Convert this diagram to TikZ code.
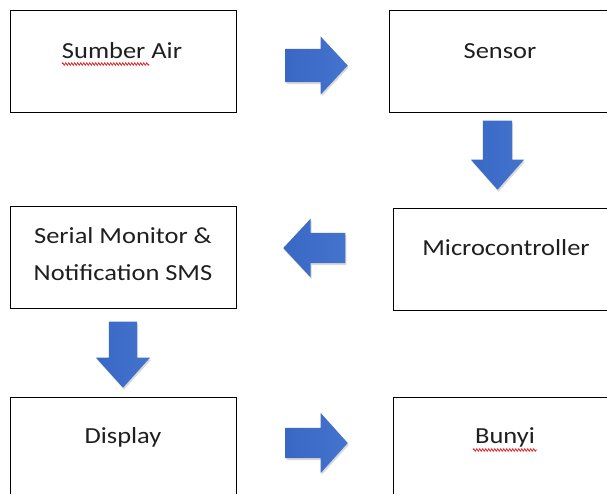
\documentclass[tikz,border=0pt]{standalone}
\usepackage{fontspec}
\setmainfont{Carlito}
\usetikzlibrary{shapes.arrows,shadows,decorations.pathmorphing}
\definecolor{arrlight}{HTML}{4574CE}
\definecolor{arrdark}{HTML}{3867C5}
\definecolor{spellred}{HTML}{E8262B}
\tikzset{
  box/.style={draw=black, line width=1.3pt, fill=white, rectangle, inner sep=0pt, anchor=north west},
  lbl/.style={anchor=base, inner sep=0pt, font=\fontsize{23}{28}\selectfont, xscale=1.15, text=black!88},
  blockarrow/.style={shape=single arrow, inner xsep=0pt, draw=none, anchor=tip,
     left color=arrdark, right color=arrlight,
     drop shadow={shadow xshift=1pt, shadow yshift=-2pt, opacity=0.15, fill=black}},
  squiggle/.style={draw=spellred, line width=0.8pt, decorate,
     decoration={zigzag, amplitude=1.2pt, segment length=3pt}}
}
\begin{document}
\begin{tikzpicture}[x=1pt, y=-1pt]
\useasboundingbox (0,0) rectangle (607,493);
\clip (0,0) rectangle (607,493);
\fill[white] (0,0) rectangle (607,493);
% boxes
\node[box, minimum width=226pt, minimum height=102pt] (sumber) at (10,10) {};
\node[box, minimum width=223pt, minimum height=102pt] (sensor) at (389,10) {};
\node[box, minimum width=219pt, minimum height=102pt] (micro) at (393,208) {};
\node[box, minimum width=226pt, minimum height=102pt] (serial) at (10,206) {};
\node[box, minimum width=226pt, minimum height=110pt] (display) at (10,397) {};
\node[box, minimum width=219pt, minimum height=110pt] (bunyi) at (393,397) {};
% labels
\node[lbl] (tsumber) at (122,58) {Sumber Air};
\node[lbl] (tsensor) at (500,58) {Sensor};
\node[lbl] (tmicro) at (506,255) {Microcontroller};
\node[lbl] (tserial1) at (123,243) {Serial Monitor \&};
\node[lbl] (tserial2) at (123,280) {Notification SMS};
\node[lbl] (tdisplay) at (123,443) {Display};
\node[lbl] (tbunyi) at (505,443) {Bunyi};
% spell-check underlines
\path[squiggle] (62,64) -- (149,64);
\path[squiggle] (473,450) -- (537,450);
% block arrows
\node[blockarrow, minimum height=62pt, inner ysep=16.5pt, single arrow head extend=12.5pt,
      single arrow tip angle=94] (a1) at (348,65.5) {};
\node[blockarrow, rotate=-90, minimum height=69pt, inner ysep=14.5pt, single arrow head extend=12pt,
      single arrow tip angle=83] (a2) at (497.5,190) {};
\node[blockarrow, rotate=180, minimum height=62pt, inner ysep=15pt, single arrow head extend=14pt,
      single arrow tip angle=94] (a3) at (283,248) {};
\node[blockarrow, rotate=-90, minimum height=66pt, inner ysep=14pt, single arrow head extend=13pt,
      single arrow tip angle=84] (a4) at (123,388) {};
\node[blockarrow, minimum height=62pt, inner ysep=15pt, single arrow head extend=15pt,
      single arrow tip angle=96] (a5) at (348,443) {};
\end{tikzpicture}
\end{document}
